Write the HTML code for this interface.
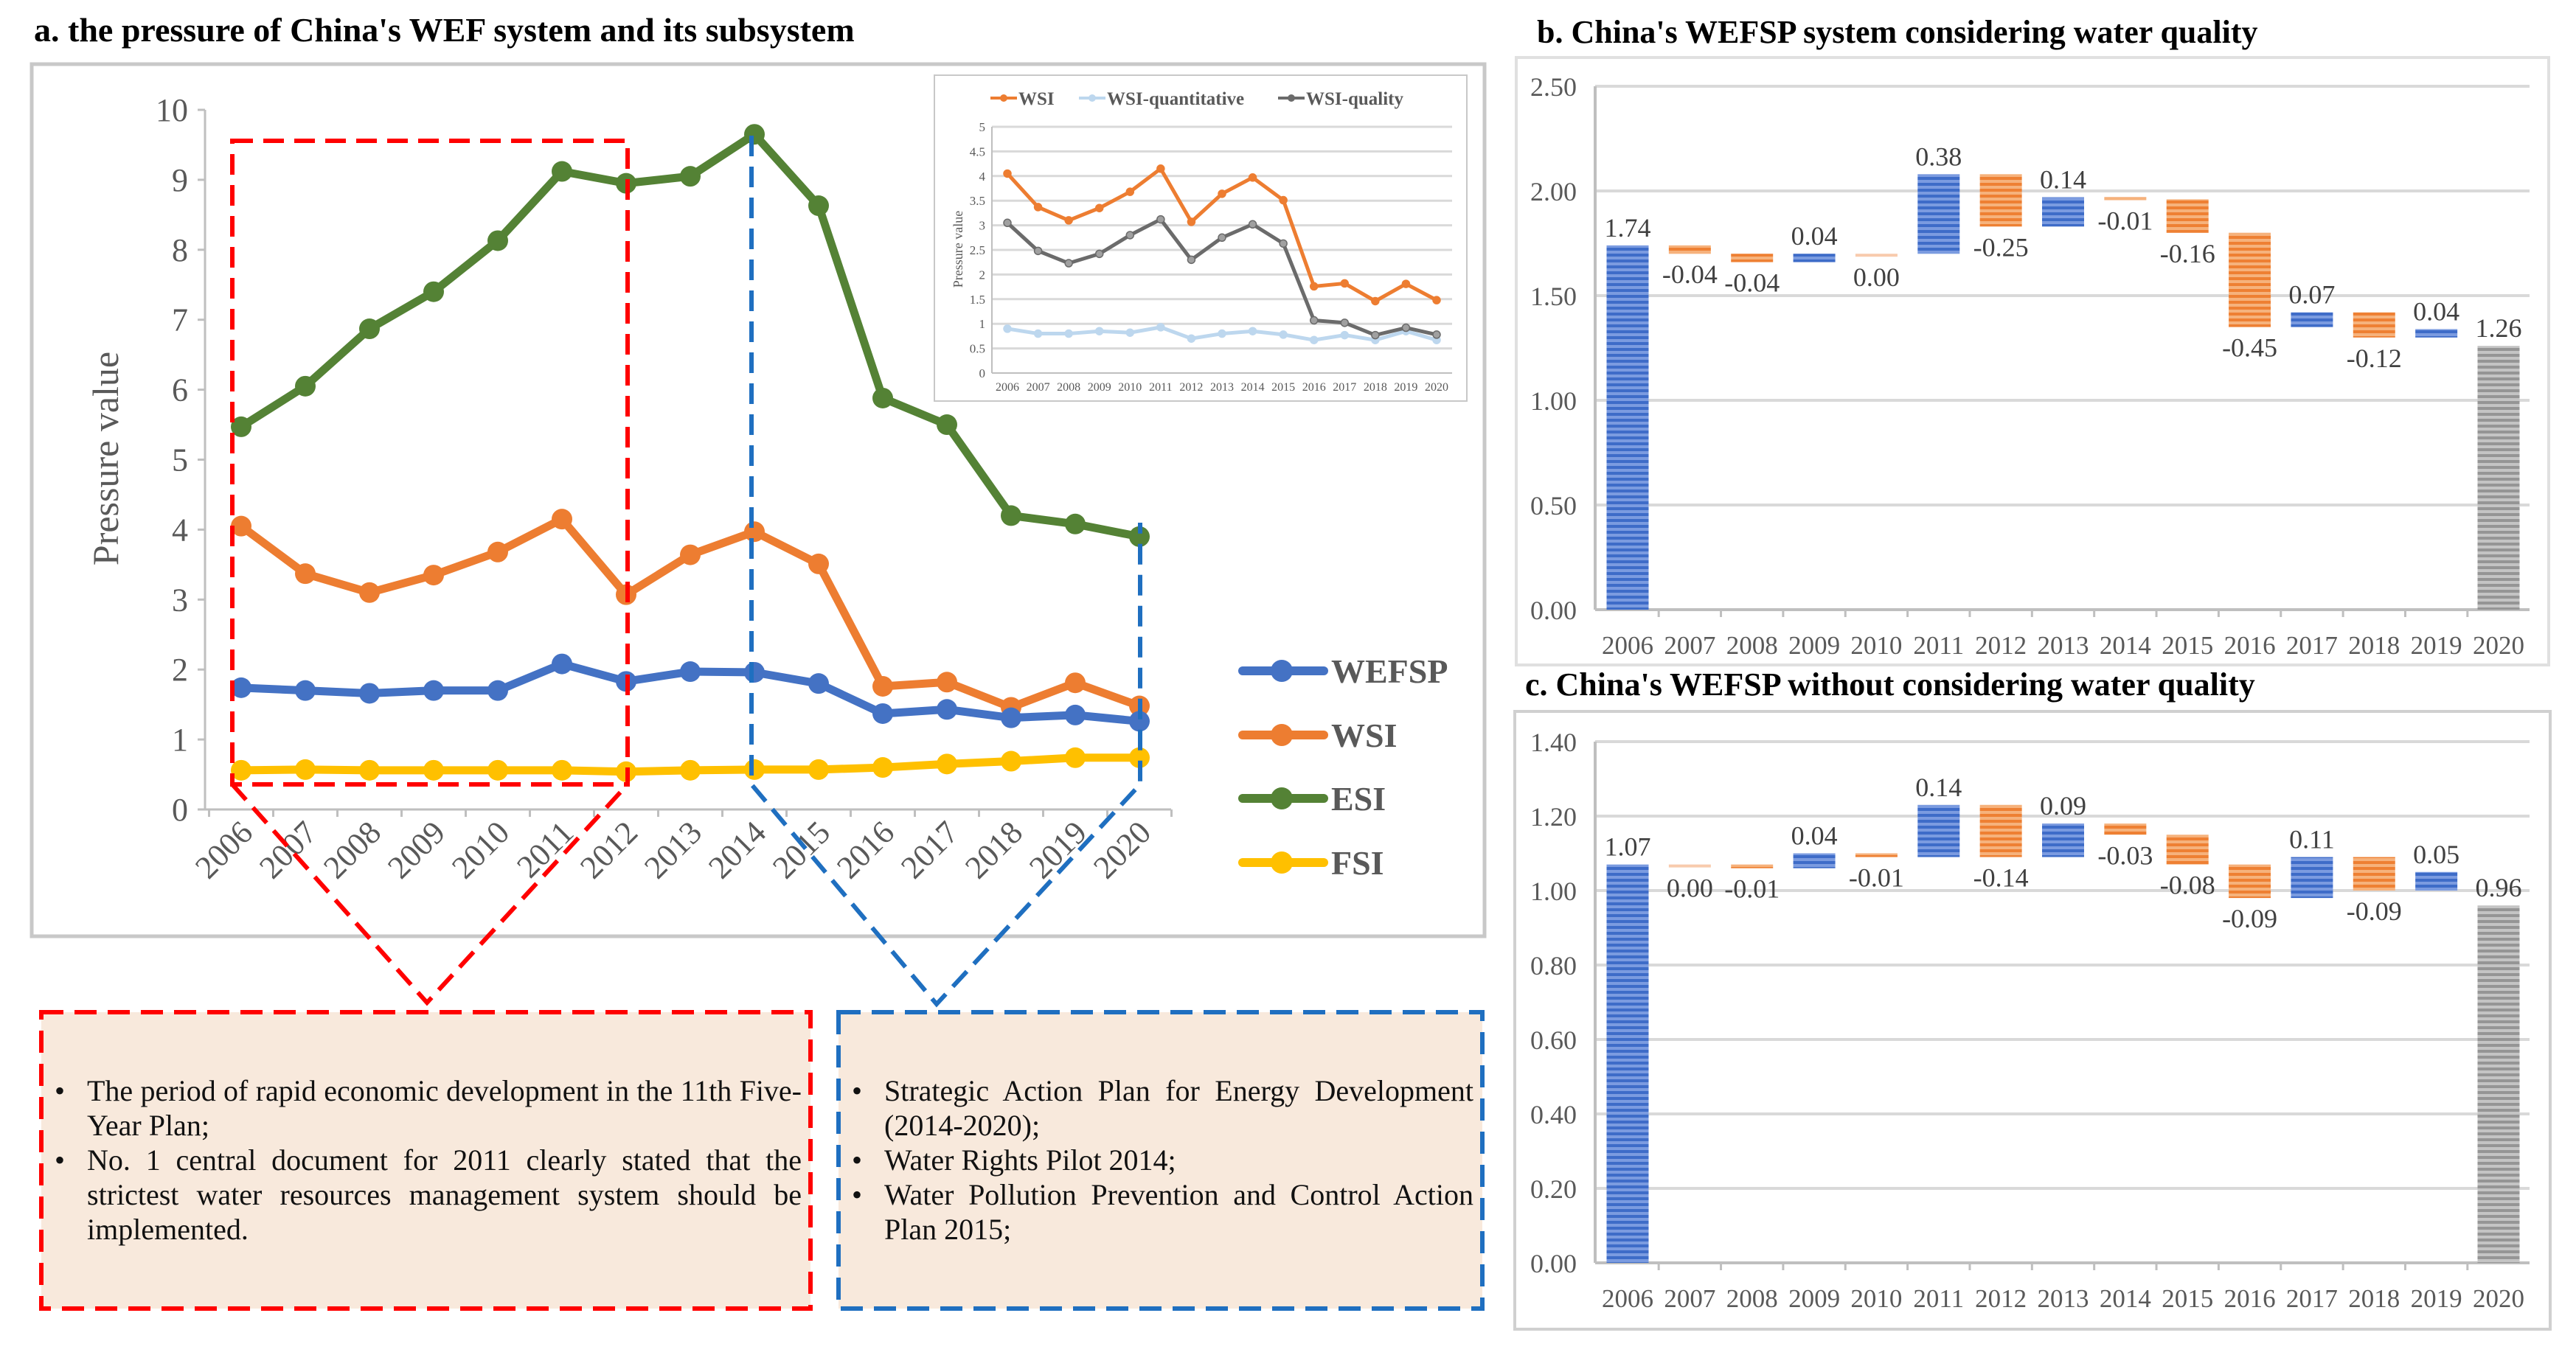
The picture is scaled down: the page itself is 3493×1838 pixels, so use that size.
<!DOCTYPE html>
<html><head><meta charset="utf-8"><style>
html,body{margin:0;padding:0;background:#fff;}
svg{display:block;font-family:"Liberation Serif",serif;}
.tb{position:absolute;box-sizing:border-box;font-family:"Liberation Serif",serif;font-size:40px;line-height:47px;color:#111;text-align:justify;}
.tb ul{margin:0;padding:0;list-style:none;}
.tb li{position:relative;}
.tb li::before{content:"•";position:absolute;left:-44px;top:0;}
</style></head><body>
<div style="position:relative;width:3493px;height:1838px;overflow:hidden;">
<svg id="s" width="3493" height="1838" viewBox="0 0 3493 1838" xmlns="http://www.w3.org/2000/svg">
<defs>
<pattern id="pb" width="10" height="8" patternUnits="userSpaceOnUse"><rect width="10" height="8" fill="#7b9be0"/><rect width="10" height="4" fill="#3e6cc8"/></pattern>
<pattern id="po" width="10" height="8" patternUnits="userSpaceOnUse"><rect width="10" height="8" fill="#f6b27c"/><rect width="10" height="4" fill="#ee8033"/></pattern>
<pattern id="pg" width="10" height="8" patternUnits="userSpaceOnUse"><rect width="10" height="8" fill="#c4c4c4"/><rect width="10" height="4" fill="#959595"/></pattern>
</defs>
<text x="46" y="56" font-size="46" font-weight="bold">a. the pressure of China's WEF system and its subsystem</text>
<rect x="43" y="87" width="1970" height="1183" fill="#fff" stroke="#c8c8c8" stroke-width="5"/>
<text x="2084" y="58" font-size="44" font-weight="bold">b. China's WEFSP system considering water quality</text>
<rect x="2056" y="78" width="1400" height="824" fill="#fff" stroke="#e0e0e0" stroke-width="4"/>
<text x="2068" y="943" font-size="44" font-weight="bold">c. China's WEFSP without considering water quality</text>
<rect x="2054" y="965" width="1404" height="838" fill="#fff" stroke="#d0d0d0" stroke-width="4"/>
<rect x="56" y="1373" width="1043" height="402" fill="#f8e9dc" stroke="#ff0000" stroke-width="6" stroke-dasharray="30 15"/>
<rect x="1137" y="1373" width="873" height="402" fill="#f8e9dc" stroke="#1f6fc0" stroke-width="6" stroke-dasharray="30 15"/>
<g id="ga"></g><g id="gi"></g><g id="gb"></g><g id="gc"></g><g id="gd"></g>
</svg>
<div class="tb" style="left:118px;top:1456px;width:969px;">
<ul><li>The period of rapid economic development in the 11th Five-Year Plan;</li>
<li>No. 1 central document for 2011 clearly stated that the strictest water resources management system should be implemented.</li></ul></div>
<div class="tb" style="left:1199px;top:1456px;width:799px;">
<ul><li>Strategic Action Plan for Energy Development (2014-2020);</li>
<li>Water Rights Pilot 2014;</li>
<li>Water Pollution Prevention and Control Action Plan 2015;</li></ul></div>
</div>
<script>
const years=["2006","2007","2008","2009","2010","2011","2012","2013","2014","2015","2016","2017","2018","2019","2020"];
const esi=[5.47,6.05,6.87,7.40,8.13,9.12,8.95,9.05,9.65,8.63,5.88,5.50,4.20,4.08,3.90];
const wsi=[4.05,3.37,3.10,3.35,3.68,4.15,3.07,3.64,3.97,3.51,1.76,1.82,1.46,1.81,1.48];
const wefsp=[1.74,1.70,1.66,1.70,1.70,2.08,1.83,1.97,1.96,1.80,1.37,1.43,1.31,1.35,1.26];
const fsi=[0.56,0.57,0.56,0.56,0.56,0.56,0.54,0.56,0.57,0.57,0.60,0.65,0.69,0.74,0.74];
const wsiQuant=[0.90,0.80,0.80,0.85,0.82,0.93,0.70,0.80,0.85,0.78,0.67,0.77,0.67,0.85,0.67];
const wsiQual=[3.05,2.48,2.23,2.42,2.80,3.12,2.30,2.75,3.02,2.63,1.07,1.02,0.77,0.92,0.78];
const aTicks=[0,1,2,3,4,5,6,7,8,9,10];
const iTicks=["0","0.5","1","1.5","2","2.5","3","3.5","4","4.5","5"];
const bStart=1.74, bEnd=1.26;
const bDelta=[-0.04,-0.04,0.04,0.00,0.38,-0.25,0.14,-0.01,-0.16,-0.45,0.07,-0.12,0.04];
const bTicks=["0.00","0.50","1.00","1.50","2.00","2.50"];
const cStart=1.07, cEnd=0.96;
const cDelta=[0.00,-0.01,0.04,-0.01,0.14,-0.14,0.09,-0.03,-0.08,-0.09,0.11,-0.09,0.05];
const cTicks=["0.00","0.20","0.40","0.60","0.80","1.00","1.20","1.40"];

const NS="http://www.w3.org/2000/svg";
function mk(p,t,a,txt){const e=document.createElementNS(NS,t);for(const k in a)e.setAttribute(k,a[k]);if(txt!==undefined)e.textContent=txt;p.appendChild(e);return e;}

// Panel a
const ga=document.getElementById('ga');
const ax=i=>327+i*(1545-327)/14, ay=v=>1098-v*(1098-149)/10;
mk(ga,'line',{x1:278,y1:ay(0),x2:1588,y2:ay(0),stroke:'#bfbfbf','stroke-width':3});
mk(ga,'line',{x1:278,y1:ay(10),x2:278,y2:ay(0),stroke:'#bfbfbf','stroke-width':3});
aTicks.forEach(v=>{
 const t=mk(ga,'text',{x:255,y:ay(v)+15,'font-size':44,'text-anchor':'end',fill:'#595959'},String(v));
 
 
 mk(ga,'line',{x1:268,y1:ay(v),x2:278,y2:ay(v),stroke:'#bfbfbf','stroke-width':3});
});
for(let i=0;i<=15;i++){const x=ax(i)-(ax(1)-ax(0))/2;mk(ga,'line',{x1:x,y1:ay(0),x2:x,y2:ay(0)+10,stroke:'#bfbfbf','stroke-width':3});}
years.forEach((y,i)=>{
 const t=mk(ga,'text',{x:ax(i)+18,y:1132,'font-size':44,'text-anchor':'end',fill:'#595959',transform:`rotate(-45 ${ax(i)+18} 1132)`},y);
 
 
});
const yt=mk(ga,'text',{x:160,y:622,'font-size':50,'text-anchor':'middle',fill:'#595959',transform:'rotate(-90 160 622)'},'Pressure value');


const series=[[esi,'#548235','esi'],[wsi,'#ed7d31','wsi'],[wefsp,'#4472c4','wefsp'],[fsi,'#ffc000','fsi']];
series.forEach(([d,c,n])=>{
 const pl=mk(ga,'polyline',{points:d.map((v,i)=>ax(i)+','+ay(v)).join(' '),fill:'none',stroke:c,'stroke-width':11,'stroke-linejoin':'round'});
 
 
 d.forEach((v,i)=>{const m=mk(ga,'circle',{cx:ax(i),cy:ay(v),r:14,fill:c});
  
  });
});
const leg=[['WEFSP','#4472c4',910],['WSI','#ed7d31',997],['ESI','#548235',1083],['FSI','#ffc000',1170]];
leg.forEach(([n,c,y])=>{
 const g=mk(ga,'g',{});
 
 
 mk(g,'line',{x1:1685,y1:y,x2:1795,y2:y,stroke:c,'stroke-width':12,'stroke-linecap':'round'});
 mk(g,'circle',{cx:1738,cy:y,r:15,fill:c});
 mk(g,'text',{x:1805,y:y+16,'font-size':46,'font-weight':'bold',fill:'#595959'},n);
});
// dashed annotations
const gd=document.getElementById('gd');
const r1=mk(gd,'rect',{x:315,y:191,width:536,height:873,fill:'none',stroke:'#ff0000','stroke-width':6,'stroke-dasharray':'28 14'});


mk(gd,'polyline',{points:'315,1064 579,1360 851,1064',fill:'none',stroke:'#ff0000','stroke-width':6,'stroke-dasharray':'28 14'});
const bl=mk(gd,'polyline',{points:'1019,184 1019,1064 1270,1362 1546,1064 1546,709',fill:'none',stroke:'#1f6fc0','stroke-width':6,'stroke-dasharray':'28 14'});



// Inset
const gi=document.getElementById('gi');
const ix=i=>1366+i*(1948-1366)/14, iy=v=>506-v*(506-172)/5;
const ib=mk(gi,'rect',{x:1267,y:102,width:722,height:442,fill:'#fff',stroke:'#c8c8c8','stroke-width':2});


iTicks.forEach(s=>{const v=parseFloat(s);
 if(v>0)mk(gi,'line',{x1:1345,y1:iy(v),x2:1969,y2:iy(v),stroke:'#d9d9d9','stroke-width':3});
 mk(gi,'text',{x:1336,y:iy(v)+6,'font-size':17,'text-anchor':'end',fill:'#595959'},s);});
mk(gi,'line',{x1:1345,y1:iy(0),x2:1969,y2:iy(0),stroke:'#bfbfbf','stroke-width':2});
mk(gi,'line',{x1:1345,y1:iy(5),x2:1345,y2:iy(0),stroke:'#bfbfbf','stroke-width':2});
years.forEach((y,i)=>mk(gi,'text',{x:ix(i),y:530,'font-size':16,'text-anchor':'middle',fill:'#595959'},y));
mk(gi,'text',{x:1305,y:338,'font-size':18,'text-anchor':'middle',fill:'#595959',transform:'rotate(-90 1305 338)'},'Pressure value');
[[wsi,'#ed7d31','wsi'],[wsiQuant,'#bdd7ee','wsi-quantitative'],[wsiQual,'#6b6b6b','wsi-quality']].forEach(([d,c,n])=>{
 const pl=mk(gi,'polyline',{points:d.map((v,i)=>ix(i)+','+iy(v)).join(' '),fill:'none',stroke:c,'stroke-width':5});
 
 
 d.forEach((v,i)=>mk(gi,'circle',{cx:ix(i),cy:iy(v),r:5,fill:n==='wsi-quality'?'#a0a0a0':c,stroke:c,'stroke-width':1.5}));
});
[['WSI','#ed7d31',1343],['WSI-quantitative','#bdd7ee',1463],['WSI-quality','#6b6b6b',1733]].forEach(([n,c,x])=>{
 const g=mk(gi,'g',{});
 
 
 mk(g,'line',{x1:x,y1:133,x2:x+36,y2:133,stroke:c,'stroke-width':4});
 mk(g,'circle',{cx:x+18,cy:133,r:5,fill:c});
 mk(g,'text',{x:x+38,y:142,'font-size':25,'font-weight':'bold',fill:'#595959'},n);
});

// Waterfalls
function waterfall(gid,start,end,delta,ticks,y0,yTop,maxV,pref){
 const g=document.getElementById(gid);
 const wx=i=>2207+i*(3388-2207)/14, wy=v=>y0-v*(y0-yTop)/maxV;
 ticks.forEach(s=>{const v=parseFloat(s);
  mk(g,'line',{x1:2163,y1:wy(v),x2:3430,y2:wy(v),stroke:v===0?'#bfbfbf':'#d9d9d9','stroke-width':4});
  const t=mk(g,'text',{x:2138,y:wy(v)+13,'font-size':36,'text-anchor':'end',fill:'#595959'},s);
  
  });
 mk(g,'line',{x1:2163,y1:wy(maxV),x2:2163,y2:y0,stroke:'#bfbfbf','stroke-width':4});
 for(let i=1;i<15;i++){const x=(wx(i-1)+wx(i))/2;mk(g,'line',{x1:x,y1:y0,x2:x,y2:y0+10,stroke:'#bfbfbf','stroke-width':3});}
 years.forEach((y,i)=>{const t=mk(g,'text',{x:wx(i),y:y0+60,'font-size':35,'text-anchor':'middle',fill:'#595959'},y);
  
  });
 const bw=57;
 function bar(i,a,b,fill,lbl,above){
  const top=wy(Math.max(a,b)), bot=wy(Math.min(a,b));
  const h=Math.max(bot-top,4);
  const r=mk(g,'rect',{x:wx(i)-bw/2,y:top,width:bw,height:h,fill:fill});
  
  
  const ty=above?top-12:top+h+40;
  mk(g,'text',{x:wx(i),y:ty,'font-size':36,'text-anchor':'middle',fill:'#404040'},lbl);
 }
 bar(0,0,start,'url(#pb)',start.toFixed(2),true);
 let cur=start;
 delta.forEach((d,k)=>{const nx=cur+d;
  const fill=d>0?'url(#pb)':(d<0?'url(#po)':'#f8cbad');
  bar(k+1,cur,nx,fill,d.toFixed(2),d>0);cur=nx;});
 bar(14,0,end,'url(#pg)',end.toFixed(2),true);
}
waterfall('gb',bStart,bEnd,bDelta,bTicks,827,117,2.5,'b');
waterfall('gc',cStart,cEnd,cDelta,cTicks,1713,1006,1.4,'c');
</script>
</body></html>
